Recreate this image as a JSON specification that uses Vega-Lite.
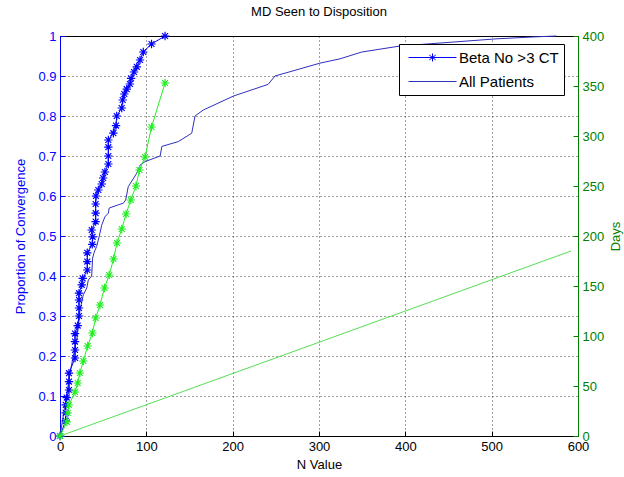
{
  "$schema": "https://vega.github.io/schema/vega-lite/v6.json",
  "width": 518,
  "height": 400,
  "autosize": {"type": "none"},
  "padding": {"left": 60, "top": 36, "right": 46, "bottom": 41},
  "background": "#ffffff",
  "title": {"text": "MD Seen to Disposition", "fontSize": 13, "fontWeight": "normal", "color": "#000000", "offset": 10, "anchor": "middle", "frame": "group"},
  "datasets": {
    "beta": [
      {"series": "Beta No >3 CT", "n": 0, "p": 0},
      {"series": "Beta No >3 CT", "n": 6.6, "p": 0.038},
      {"series": "Beta No >3 CT", "n": 6.6, "p": 0.058},
      {"series": "Beta No >3 CT", "n": 6.6, "p": 0.078},
      {"series": "Beta No >3 CT", "n": 7.8, "p": 0.096},
      {"series": "Beta No >3 CT", "n": 10.4, "p": 0.115},
      {"series": "Beta No >3 CT", "n": 10.4, "p": 0.136},
      {"series": "Beta No >3 CT", "n": 10.4, "p": 0.157},
      {"series": "Beta No >3 CT", "n": 17.4, "p": 0.195},
      {"series": "Beta No >3 CT", "n": 17.4, "p": 0.215},
      {"series": "Beta No >3 CT", "n": 17.4, "p": 0.236},
      {"series": "Beta No >3 CT", "n": 17.4, "p": 0.256},
      {"series": "Beta No >3 CT", "n": 20.5, "p": 0.276},
      {"series": "Beta No >3 CT", "n": 22, "p": 0.3},
      {"series": "Beta No >3 CT", "n": 22, "p": 0.32},
      {"series": "Beta No >3 CT", "n": 22, "p": 0.34},
      {"series": "Beta No >3 CT", "n": 22, "p": 0.357},
      {"series": "Beta No >3 CT", "n": 25.2, "p": 0.378},
      {"series": "Beta No >3 CT", "n": 26.3, "p": 0.394},
      {"series": "Beta No >3 CT", "n": 31.6, "p": 0.415},
      {"series": "Beta No >3 CT", "n": 31.6, "p": 0.436},
      {"series": "Beta No >3 CT", "n": 31.6, "p": 0.458},
      {"series": "Beta No >3 CT", "n": 37.4, "p": 0.479},
      {"series": "Beta No >3 CT", "n": 37.8, "p": 0.498},
      {"series": "Beta No >3 CT", "n": 36.7, "p": 0.515},
      {"series": "Beta No >3 CT", "n": 41.3, "p": 0.536},
      {"series": "Beta No >3 CT", "n": 41.3, "p": 0.557},
      {"series": "Beta No >3 CT", "n": 41.3, "p": 0.58},
      {"series": "Beta No >3 CT", "n": 41.7, "p": 0.6},
      {"series": "Beta No >3 CT", "n": 44.4, "p": 0.615},
      {"series": "Beta No >3 CT", "n": 48.3, "p": 0.63},
      {"series": "Beta No >3 CT", "n": 50, "p": 0.645},
      {"series": "Beta No >3 CT", "n": 52, "p": 0.66},
      {"series": "Beta No >3 CT", "n": 56, "p": 0.68},
      {"series": "Beta No >3 CT", "n": 56, "p": 0.7},
      {"series": "Beta No >3 CT", "n": 56, "p": 0.722},
      {"series": "Beta No >3 CT", "n": 56, "p": 0.74},
      {"series": "Beta No >3 CT", "n": 61.8, "p": 0.757},
      {"series": "Beta No >3 CT", "n": 64.9, "p": 0.776},
      {"series": "Beta No >3 CT", "n": 65.7, "p": 0.8},
      {"series": "Beta No >3 CT", "n": 71.5, "p": 0.82},
      {"series": "Beta No >3 CT", "n": 72.6, "p": 0.84},
      {"series": "Beta No >3 CT", "n": 74.5, "p": 0.855},
      {"series": "Beta No >3 CT", "n": 77.3, "p": 0.867},
      {"series": "Beta No >3 CT", "n": 81, "p": 0.88},
      {"series": "Beta No >3 CT", "n": 82.3, "p": 0.894},
      {"series": "Beta No >3 CT", "n": 85.7, "p": 0.91},
      {"series": "Beta No >3 CT", "n": 88.9, "p": 0.923},
      {"series": "Beta No >3 CT", "n": 92.7, "p": 0.94},
      {"series": "Beta No >3 CT", "n": 96.5, "p": 0.96},
      {"series": "Beta No >3 CT", "n": 106, "p": 0.98},
      {"series": "Beta No >3 CT", "n": 121.7, "p": 1.0}
    ],
    "allpatients": [
      {"series": "All Patients", "n": 0, "p": 0},
      {"series": "All Patients", "n": 3, "p": 0.04},
      {"series": "All Patients", "n": 6, "p": 0.08},
      {"series": "All Patients", "n": 9, "p": 0.12},
      {"series": "All Patients", "n": 11.6, "p": 0.157},
      {"series": "All Patients", "n": 15.4, "p": 0.2},
      {"series": "All Patients", "n": 19.3, "p": 0.24},
      {"series": "All Patients", "n": 21, "p": 0.27},
      {"series": "All Patients", "n": 23.2, "p": 0.315},
      {"series": "All Patients", "n": 27, "p": 0.353},
      {"series": "All Patients", "n": 31, "p": 0.37},
      {"series": "All Patients", "n": 32.8, "p": 0.39},
      {"series": "All Patients", "n": 36.7, "p": 0.4},
      {"series": "All Patients", "n": 37.8, "p": 0.445},
      {"series": "All Patients", "n": 39.7, "p": 0.46},
      {"series": "All Patients", "n": 42.5, "p": 0.474},
      {"series": "All Patients", "n": 45.5, "p": 0.5},
      {"series": "All Patients", "n": 48.3, "p": 0.527},
      {"series": "All Patients", "n": 52, "p": 0.548},
      {"series": "All Patients", "n": 56, "p": 0.557},
      {"series": "All Patients", "n": 57, "p": 0.57},
      {"series": "All Patients", "n": 67.6, "p": 0.578},
      {"series": "All Patients", "n": 73.4, "p": 0.582},
      {"series": "All Patients", "n": 76, "p": 0.59},
      {"series": "All Patients", "n": 77, "p": 0.6},
      {"series": "All Patients", "n": 79, "p": 0.623},
      {"series": "All Patients", "n": 88.9, "p": 0.657},
      {"series": "All Patients", "n": 92.7, "p": 0.677},
      {"series": "All Patients", "n": 98.5, "p": 0.686},
      {"series": "All Patients", "n": 116, "p": 0.7},
      {"series": "All Patients", "n": 118, "p": 0.724},
      {"series": "All Patients", "n": 137, "p": 0.736},
      {"series": "All Patients", "n": 152.6, "p": 0.757},
      {"series": "All Patients", "n": 156.4, "p": 0.8},
      {"series": "All Patients", "n": 166, "p": 0.815},
      {"series": "All Patients", "n": 201, "p": 0.85},
      {"series": "All Patients", "n": 241, "p": 0.879},
      {"series": "All Patients", "n": 249, "p": 0.9},
      {"series": "All Patients", "n": 301, "p": 0.932},
      {"series": "All Patients", "n": 324.4, "p": 0.943},
      {"series": "All Patients", "n": 349.6, "p": 0.96},
      {"series": "All Patients", "n": 394, "p": 0.975},
      {"series": "All Patients", "n": 425, "p": 0.98},
      {"series": "All Patients", "n": 506, "p": 0.993},
      {"series": "All Patients", "n": 552, "p": 0.998},
      {"series": "All Patients", "n": 575, "p": 1.0}
    ],
    "greenstar": [
      {"n": 0, "days": 0},
      {"n": 8, "days": 14},
      {"n": 9, "days": 23},
      {"n": 10.4, "days": 31},
      {"n": 17.4, "days": 44},
      {"n": 20.5, "days": 53},
      {"n": 23, "days": 63},
      {"n": 27, "days": 75},
      {"n": 32, "days": 90},
      {"n": 37.5, "days": 103},
      {"n": 41.3, "days": 118},
      {"n": 46.3, "days": 131},
      {"n": 51.5, "days": 148},
      {"n": 57, "days": 161},
      {"n": 62, "days": 177},
      {"n": 66, "days": 193},
      {"n": 71.5, "days": 207},
      {"n": 76.5, "days": 222},
      {"n": 82, "days": 236},
      {"n": 88, "days": 250},
      {"n": 92, "days": 266},
      {"n": 98.5, "days": 279},
      {"n": 106, "days": 309},
      {"n": 121.7, "days": 353}
    ],
    "greenline": [
      {"n": 0, "days": 0},
      {"n": 592, "days": 185}
    ]
  },
  "layer": [
    {
      "encoding": {
        "x": {"field": "n", "type": "quantitative", "scale": {"domain": [0, 600], "nice": false},
          "axis": {"title": "N Value", "values": [0, 100, 200, 300, 400, 500, 600], "grid": true, "labelPadding": 9, "titlePadding": 5}},
        "y": {"field": "p", "type": "quantitative", "scale": {"domain": [0, 1], "nice": false},
          "axis": {"orient": "left", "title": "Proportion of Convergence", "values": [0, 0.1, 0.2, 0.3, 0.4, 0.5, 0.6, 0.7, 0.8, 0.9, 1],
            "labelExpr": "'' + datum.value", "grid": true, "domainColor": "#0000ff", "tickColor": "#0000ff", "labelColor": "#0000ff", "titleColor": "#0000ff", "titlePadding": 10}}
      },
      "layer": [
        {
          "data": {"name": "allpatients"},
          "mark": {"type": "line", "strokeWidth": 1},
          "encoding": {
            "order": {"field": "p", "type": "quantitative"},
            "color": {"field": "series", "type": "nominal",
              "scale": {"domain": ["Beta No >3 CT", "All Patients"], "range": ["#0000ff", "#2f2fc0"]},
              "legend": {"title": null, "orient": "none", "legendX": 339, "legendY": 8,
                "fillColor": "#ffffff", "strokeColor": "#000000", "padding": 5, "cornerRadius": 0,
                "symbolSize": 256, "symbolStrokeWidth": 1, "labelOffset": 38, "rowPadding": 7,
                "labelFontSize": 15, "labelColor": "#000000",
                "encode": {"symbols": {"update": {"shape": {"signal": "datum.label === 'Beta No >3 CT' ? 'M-0.5,0L5.5,0M2.5,-0.5L2.5,0.5M2.1,-0.3L2.9,0.3M2.1,0.3L2.9,-0.3' : 'M-0.5,0L5.5,0'"}}}}}}
          }
        },
        {
          "data": {"name": "beta"},
          "mark": {"type": "line", "strokeWidth": 1},
          "encoding": {
            "order": {"field": "p", "type": "quantitative"},
            "color": {"field": "series", "type": "nominal"}
          }
        },
        {
          "data": {"name": "beta"},
          "mark": {"type": "point", "shape": "M-1,0L1,0M0,-1L0,1M-0.7,-0.7L0.7,0.7M-0.7,0.7L0.7,-0.7", "filled": false, "size": 70, "strokeWidth": 1.2, "color": "#0000ff", "opacity": 1},
          "encoding": {}
        }
      ]
    },
    {
      "encoding": {
        "x": {"field": "n", "type": "quantitative"},
        "y": {"field": "days", "type": "quantitative", "scale": {"domain": [0, 400], "nice": false},
          "axis": {"orient": "right", "title": "Days", "values": [0, 50, 100, 150, 200, 250, 300, 350, 400], "grid": false,
            "domainColor": "#008000", "tickColor": "#008000", "labelColor": "#008000", "titleColor": "#008000", "titlePadding": 19, "titleAngle": 270}}
      },
      "layer": [
        {
          "data": {"name": "greenline"},
          "mark": {"type": "line", "strokeWidth": 1, "color": "#55dd55"},
          "encoding": {}
        },
        {
          "data": {"name": "greenstar"},
          "mark": {"type": "line", "strokeWidth": 1, "color": "#22ee22"},
          "encoding": {
            "order": {"field": "days", "type": "quantitative"}
          }
        },
        {
          "data": {"name": "greenstar"},
          "mark": {"type": "point", "shape": "M-1,0L1,0M0,-1L0,1M-0.7,-0.7L0.7,0.7M-0.7,0.7L0.7,-0.7", "filled": false, "size": 70, "strokeWidth": 1.2, "color": "#22ee22", "opacity": 1},
          "encoding": {}
        }
      ]
    }
  ],
  "resolve": {"scale": {"y": "independent"}},
  "config": {
    "font": "Liberation Sans",
    "view": {"stroke": "#000000", "strokeWidth": 1},
    "axis": {
      "labelFontSize": 13, "titleFontSize": 13, "titleFontWeight": "normal",
      "labelColor": "#000000", "titleColor": "#000000", "domainColor": "#000000", "tickColor": "#000000",
      "gridColor": "#000000", "gridDash": [1, 3], "gridOpacity": 0.75, "gridWidth": 1,
      "tickSize": -5, "labelPadding": 9, "domainWidth": 1, "labelFlush": false, "labelOverlap": false
    },
    "legend": {"labelFont": "Liberation Sans"}
  }
}
